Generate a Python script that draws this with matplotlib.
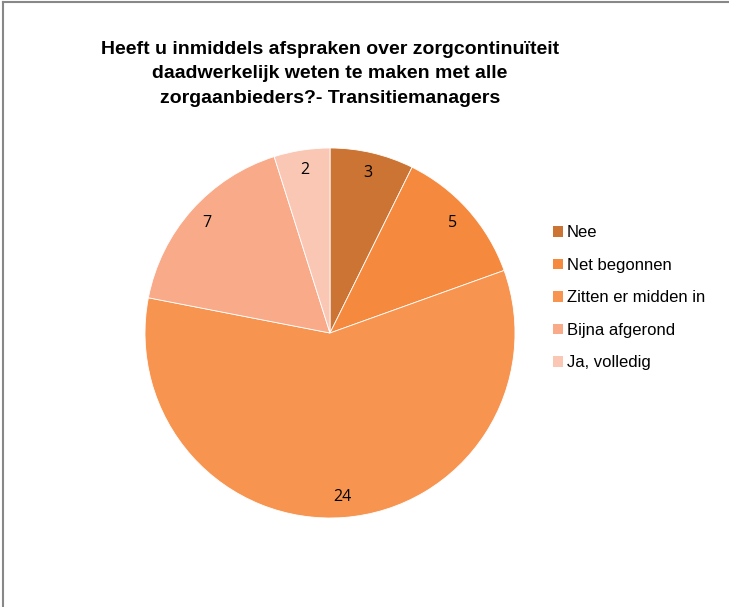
import matplotlib.pyplot as plt
from matplotlib.patches import Patch
from matplotlib.lines import Line2D

plt.rcParams['font.family'] = ['Liberation Sans', 'DejaVu Sans']

# Data
labels = ['Nee', 'Net begonnen', 'Zitten er midden in', 'Bijna afgerond', 'Ja, volledig']
values = [3, 5, 24, 7, 2]
colors = ['#CC7434', '#F58A3F', '#F79450', '#F8AA89', '#FAC7B5']
title = 'Heeft u inmiddels afspraken over zorgcontinuïteit\ndaadwerkelijk weten te maken met alle\nzorgaanbieders?- Transitiemanagers'

W, H = 729, 607
fig = plt.figure(figsize=(W / 100, H / 100), dpi=100)

# Pie
ax = fig.add_axes([145 / W, (H - 518) / H, 370 / W, 370 / H])
total = sum(values)
wedges, texts, autotexts = ax.pie(
    values, colors=colors, startangle=90, counterclock=False,
    radius=1.0, autopct=lambda p: '{:.0f}'.format(p * total / 100),
    pctdistance=0.89, wedgeprops=dict(edgecolor='white', linewidth=0.6),
    textprops=dict(fontsize=11.5, color='black', family=['Open Sans', 'DejaVu Sans']))
ax.set_xlim(-1, 1)
ax.set_ylim(-1, 1)
ax.set_aspect('equal')

# Title
fig.text(330 / W, 1 - 74 / H, title, ha='center', va='center',
         fontsize=14, fontweight='bold', linespacing=1.6)

# Legend
handles = [Patch(facecolor=c, edgecolor='none') for c in colors]
fig.legend(handles, labels, loc='upper left', bbox_to_anchor=(545 / W, 1 - 217 / H),
           frameon=False, fontsize=12, handlelength=0.6, handleheight=0.6,
           handletextpad=0.2, labelspacing=1.05, borderpad=0)

# Frame (left and top border)
fig.add_artist(Line2D([2.5 / W, 2.5 / W], [0, 1 - 1.5 / H], color='#888888', linewidth=1.5))
fig.add_artist(Line2D([2.5 / W, 1], [1 - 1.5 / H, 1 - 1.5 / H], color='#888888', linewidth=1.5))

fig.savefig('out.png', dpi=100)
